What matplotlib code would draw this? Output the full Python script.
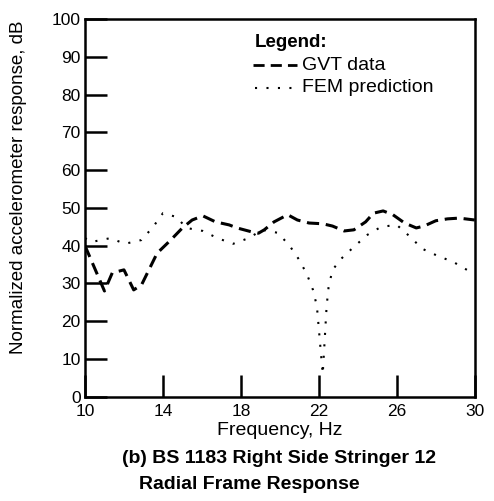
import matplotlib
matplotlib.use("Agg")
import matplotlib.pyplot as plt

plt.rcParams["font.family"] = ["Liberation Sans", "DejaVu Sans"]

# GVT data (dashed)
gvt_freq = [10.0, 10.5, 11.0, 11.4, 12.0, 12.5, 12.9, 13.7, 14.4, 15.0, 15.5, 16.05, 16.7,
            17.4, 17.8, 18.6, 18.9, 19.2, 19.7, 20.4, 20.9, 21.5, 22.2, 22.7, 23.3,
            23.8, 24.4, 24.8, 25.3, 25.8, 26.4, 27.0, 27.4, 28.0, 28.6, 29.2, 30.0]
gvt_db = [40.0, 34.0, 28.0, 32.8, 33.6, 28.3, 29.6, 38.0, 41.5, 44.7, 46.8, 47.9, 46.3,
          45.5, 44.7, 43.6, 43.3, 44.2, 46.3, 48.2, 46.8, 46.0, 45.8, 45.2, 43.9,
          44.2, 46.3, 48.6, 49.2, 48.2, 46.0, 44.7, 45.2, 46.6, 47.1, 47.3, 46.8]

# FEM prediction (dotted)
fem_freq = [10.0, 10.35, 11.3, 12.05, 12.9, 13.5, 14.0, 14.7, 15.2, 16.05, 16.8,
            17.6, 18.4, 19.1, 19.9, 20.5, 21.0, 21.4, 21.7, 21.9, 22.05, 22.2,
            22.3, 22.4, 22.5, 22.7, 23.2, 23.8, 24.5, 25.2, 26.0, 26.7, 27.3,
            28.1, 28.9, 29.6, 30.0]
fem_db = [42.0, 41.0, 42.0, 40.5, 41.5, 45.0, 48.6, 47.6, 44.7, 43.9, 42.0,
          40.5, 42.0, 44.2, 43.4, 40.0, 36.2, 32.3, 28.3, 24.0, 15.0, 6.0,
          15.0, 24.0, 29.0, 33.6, 36.8, 39.7, 42.9, 45.0, 45.5, 42.3, 39.2,
          37.3, 35.7, 33.6, 33.0]

x_ticks = [10, 14, 18, 22, 26, 30]
y_ticks = list(range(0, 101, 10))

fig = plt.figure(figsize=(4.94, 5.01), dpi=100)
ax = fig.add_axes([0.172, 0.208, 0.789, 0.754])

ax.plot(gvt_freq, gvt_db, color="black", lw=2.2, linestyle=(0, (4, 2.2)))
ax.plot(fem_freq, fem_db, color="black", lw=1.5, linestyle=(0, (1, 4.5)))

ax.set_xlim(10, 30)
ax.set_ylim(0, 100)
ax.set_xticks(x_ticks)
ax.set_yticks(y_ticks)
ax.tick_params(direction="in", length=16, width=1.8, labelsize=12.5, pad=3)
ax.tick_params(axis="x", pad=5)
for s in ax.spines.values():
    s.set_linewidth(1.8)

ax.set_ylabel("Normalized accelerometer response, dB", fontsize=13.5)
ax.yaxis.set_label_coords(-0.148, 0.556)
ax.set_xlabel("Frequency, Hz", fontsize=14)
ax.xaxis.set_label_coords(0.5, -0.068)

# legend block
ax.text(0.436, 0.939, "Legend:", transform=ax.transAxes, fontsize=13.5,
        fontweight="bold", va="center")
ax.plot([0.431, 0.544], [0.878, 0.878], transform=ax.transAxes, color="black",
        lw=2.0, linestyle=(0, (4, 2.2)))
ax.text(0.556, 0.878, "GVT data", transform=ax.transAxes, fontsize=14, va="center")
ax.plot([0.436, 0.544], [0.818, 0.818], transform=ax.transAxes, color="black",
        lw=1.5, linestyle=(0, (1, 4.5)))
ax.text(0.556, 0.818, "FEM prediction", transform=ax.transAxes, fontsize=14, va="center")

fig.text(0.565, 0.084, "(b) BS 1183 Right Side Stringer 12", fontsize=14,
         fontweight="bold", ha="center", va="center")
fig.text(0.504, 0.032, "Radial Frame Response", fontsize=14,
         fontweight="bold", ha="center", va="center")

fig.savefig("out.png", dpi=100)
